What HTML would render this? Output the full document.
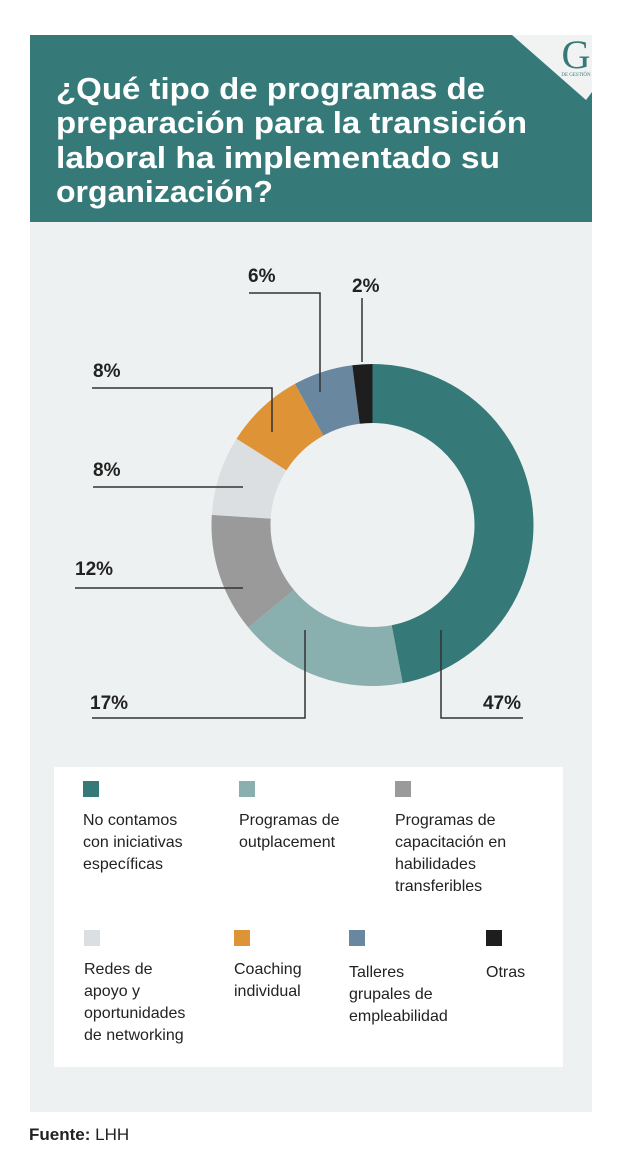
<!DOCTYPE html>
<html><head><meta charset="utf-8"><style>
html,body{margin:0;padding:0;background:#fff;}
body{width:620px;height:1162px;position:relative;overflow:hidden;font-family:"Liberation Sans",sans-serif;}
svg{position:absolute;left:0;top:0;}
</style></head><body>
<svg id="chart" width="620" height="1162" viewBox="0 0 620 1162">
  <rect x="30" y="35" width="562" height="187" fill="#357a78"/>
  <polygon points="512,35 592,35 592,92 586,100" fill="#f1f3f3"/>
  <text x="576" y="68" text-anchor="middle" font-family="Liberation Serif, serif" font-size="40" fill="#357a78">G</text>
  <text x="576" y="76" text-anchor="middle" font-family="Liberation Serif, serif" font-size="5" fill="#357a78">DE GESTIÓN</text>
  <g font-weight="bold" font-size="31" fill="#ffffff">
    <text x="56" y="99" textLength="429" lengthAdjust="spacingAndGlyphs">¿Qué tipo de programas de</text>
    <text x="56" y="133" textLength="471" lengthAdjust="spacingAndGlyphs">preparación para la transición</text>
    <text x="56" y="168" textLength="444" lengthAdjust="spacingAndGlyphs">laboral ha implementado su</text>
    <text x="56" y="202" textLength="217" lengthAdjust="spacingAndGlyphs">organización?</text>
  </g>
  <rect x="30" y="222" width="562" height="890" fill="#eef1f1"/>
  <g id="donut"></g>
  <g id="leaders" stroke="#333" stroke-width="1.5" fill="none"></g>
  <g id="labels" font-weight="bold" font-size="19" fill="#222"></g>
  <rect x="54" y="767" width="509" height="300" fill="#ffffff"/>
  <g id="legend" font-size="16" fill="#222"></g>
  <text x="29" y="1140" font-size="17" fill="#222"><tspan font-weight="bold">Fuente:</tspan> LHH</text>
</svg>
<script>
const categories = ["No contamos con iniciativas específicas","Programas de outplacement","Programas de capacitación en habilidades transferibles","Redes de apoyo y oportunidades de networking","Coaching individual","Talleres grupales de empleabilidad","Otras"];
const values = [47,17,12,8,8,6,2];
const valueLabels = ["47%","17%","12%","8%","8%","6%","2%"];
const colors = ["#357a78","#89b0af","#9a9a9a","#dcdfe1","#de9337","#6a87a0","#1e1e1e"];
const legendLines = [["No contamos","con iniciativas","específicas"],["Programas de","outplacement"],["Programas de","capacitación en","habilidades","transferibles"],["Redes de","apoyo y","oportunidades","de networking"],["Coaching","individual"],["Talleres","grupales de","empleabilidad"],["Otras"]];
const NS="http://www.w3.org/2000/svg";
const cx=372.5, cy=525, R=161, r=102;
const total = values.reduce((a,b)=>a+b,0);
function ang(v){return v/total*2*Math.PI;}
function pt(a,rad){return [cx+rad*Math.sin(a), cy-rad*Math.cos(a)];}
const donut=document.getElementById('donut');
let a0=0;
values.forEach((v,i)=>{
  const a1=a0+ang(v);
  const [x0,y0]=pt(a0,R),[x1,y1]=pt(a1,R),[x2,y2]=pt(a1,r),[x3,y3]=pt(a0,r);
  const large=(a1-a0)>Math.PI?1:0;
  const p=document.createElementNS(NS,'path');
  p.setAttribute('d',`M${x0},${y0}A${R},${R} 0 ${large} 1 ${x1},${y1}L${x2},${y2}A${r},${r} 0 ${large} 0 ${x3},${y3}Z`);
  p.setAttribute('fill',colors[i]);
  
  
  donut.appendChild(p);
  a0=a1;
});
const leaders=document.getElementById('leaders');
const labels=document.getElementById('labels');
const layout=[
  {d:"M441,630V718H523",lx:521,ly:709,anchor:'end'},
  {d:"M305,630V718H92",lx:90,ly:709,anchor:'start'},
  {d:"M243,588H75",lx:75,ly:575,anchor:'start'},
  {d:"M243,487H93",lx:93,ly:476,anchor:'start'},
  {d:"M272,432V388H92",lx:93,ly:377,anchor:'start'},
  {d:"M320,392V293H249",lx:248,ly:282,anchor:'start'},
  {d:"M362,362V298",lx:352,ly:292,anchor:'start'}
];
valueLabels.forEach((lab,i)=>{
  const L=layout[i];
  const p=document.createElementNS(NS,'path');
  p.setAttribute('d',L.d);
  
  
  leaders.appendChild(p);
  const t=document.createElementNS(NS,'text');
  t.setAttribute('x',L.lx);t.setAttribute('y',L.ly);t.setAttribute('text-anchor',L.anchor);
  t.textContent=lab;
  
  
  labels.appendChild(t);
});
const legend=document.getElementById('legend');
const lpos=[[83,781,825],[239,781,825],[395,781,825],[84,930,974],[234,930,974],[349,930,977],[486,930,977]];
categories.forEach((c,i)=>{
  const [x,y,ty]=lpos[i];
  const g=document.createElementNS(NS,'g');
  
  
  const s=document.createElementNS(NS,'rect');
  s.setAttribute('x',x);s.setAttribute('y',y);s.setAttribute('width',16);s.setAttribute('height',16);s.setAttribute('fill',colors[i]);
  
  
  g.appendChild(s);
  const t=document.createElementNS(NS,'text');
  
  
  legendLines[i].forEach((ln,k)=>{
    const sp=document.createElementNS(NS,'tspan');
    sp.setAttribute('x',x);sp.setAttribute('y',ty+k*22);
    sp.textContent=ln;t.appendChild(sp);
  });
  g.appendChild(t);
  legend.appendChild(g);
});
</script>
</body></html>
